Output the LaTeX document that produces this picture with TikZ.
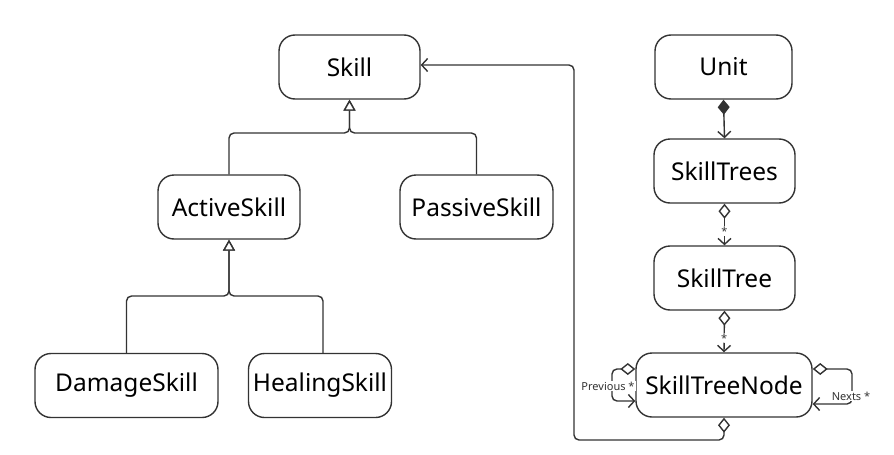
\documentclass[tikz,border=0pt]{standalone}
\usepackage{fontspec}
\setmainfont{Noto Sans}
\usetikzlibrary{arrows.meta}
\definecolor{ln}{HTML}{333333}
\begin{document}
\begin{tikzpicture}[x=1pt,y=-1pt,
  cls/.style={draw=ln, line width=1.4pt, rounded corners=16pt, minimum height=64pt, font=\fontsize{24.5}{28}\selectfont, text=black, inner sep=0pt},
  con/.style={draw=ln, line width=1.4pt, rounded corners=5pt},
  inh/.style={con, -{Triangle[open,fill=white,length=11pt,width=12pt]}},
  agg/.style={con, {Diamond[open,fill=white,length=15pt,width=12pt]}-{Straight Barb[length=6pt,width=13pt]}},
  comp/.style={con, {Diamond[fill=ln,length=15pt,width=12pt]}-{Straight Barb[length=6pt,width=13pt]}},
  lbl/.style={font=\fontsize{11}{13}\selectfont, text=ln, fill=white, inner sep=1pt},
  star/.style={font=\fontsize{11}{12}\selectfont, text=ln, fill=white, inner sep=0.5pt}
]
\useasboundingbox[fill=white] (0,0) rectangle (894,455);
% class boxes
\node[cls, minimum width=141pt] (skill) at (349.5,67) {Skill};
\node[cls, minimum width=142pt] (active) at (229,207) {ActiveSkill};
\node[cls, minimum width=153pt] (passive) at (476.5,207) {PassiveSkill};
\node[cls, minimum width=183pt] (damage) at (126.5,385.5) {DamageSkill};
\node[cls, minimum width=143pt] (healing) at (320,385.5) {HealingSkill};
\node[cls, minimum width=137pt] (unit) at (723.5,67) {Unit};
\node[cls, minimum width=141pt] (trees) at (724.5,171) {SkillTrees};
\node[cls, minimum width=141pt] (tree) at (724.5,278) {SkillTree};
\node[cls, minimum width=176pt] (stn) at (724,385) {SkillTreeNode};
% inheritance
\coordinate (j1) at (349.5,133);
\coordinate (j2) at (229,296);
\draw[inh] (active.north) -- (active.north |- j1) -- (j1) -- (skill.south);
\draw[inh] (passive.north) -- (passive.north |- j1) -- (j1) -- (skill.south);
\draw[inh] (damage.north) -- (damage.north |- j2) -- (j2) -- (active.south);
\draw[inh] ([xshift=3pt]healing.north) -- ([xshift=3pt]healing.north |- j2) -- (j2) -- (active.south);
% composition / aggregation
\draw[comp] (unit.south) -- (trees.north);
\draw[agg] (trees.south) -- node[star, pos=0.66] {*} (tree.north);
\draw[agg] (tree.south) -- node[star, pos=0.66] {*} (stn.north);
% node -> skill
\coordinate (b1) at (724,440);
\coordinate (b2) at (574,440);
\coordinate (b3) at (574,65);
\draw[agg] (stn.south) -- (b1) -- (b2) -- (b3) -- (b3 -| skill.east);
% self loops
\coordinate (l1) at (612,369);
\coordinate (l2) at (612,401);
\draw[agg] (l1 -| stn.west) -- (l1) -- (l2) -- (l2 -| stn.west);
\node[lbl] (prev) at (608,386) {Previous *};
\coordinate (r1) at (852,369);
\coordinate (r2) at (852,404);
\draw[agg] (r1 -| stn.east) -- (r1) -- (r2) -- (r2 -| stn.east);
\node[lbl] (nexts) at (851,396) {Nexts *};
\end{tikzpicture}
\end{document}
